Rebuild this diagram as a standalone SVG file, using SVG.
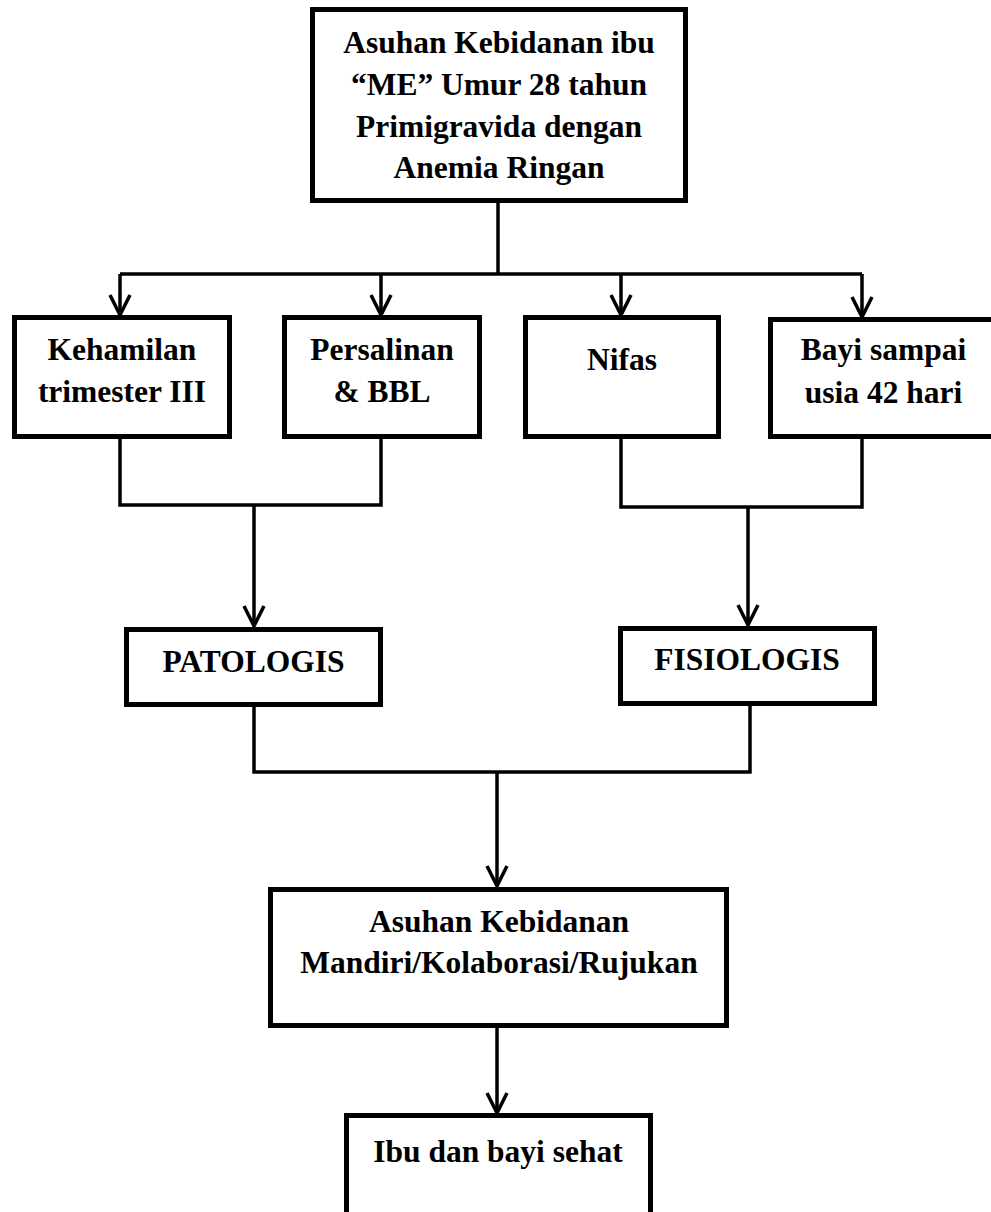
<svg xmlns="http://www.w3.org/2000/svg" width="991" height="1212" viewBox="0 0 991 1212">
<style>
.box{fill:#fff;stroke:#000;stroke-width:5;stroke-linejoin:miter}
.ln{fill:none;stroke:#000;stroke-width:3.5;stroke-linejoin:miter}
text{font-family:"Liberation Serif","Times New Roman",serif;font-weight:bold;font-size:31.5px;fill:#000;text-anchor:middle}
</style>
<defs>
<marker id="arr" viewBox="-24 -13 27 26" markerWidth="27" markerHeight="26" refX="0" refY="0" orient="auto" markerUnits="userSpaceOnUse">
<path d="M-20,-10 L0,0 L-20,10" fill="none" stroke="#000" stroke-width="3.5"/>
</marker>
</defs>
<rect width="991" height="1212" fill="#fff"/>
<g id="connectors">
<path class="ln" d="M498 203 V274"/>
<path class="ln" d="M120 274 H862"/>
<path class="ln" d="M120 274 V315" marker-end="url(#arr)"/>
<path class="ln" d="M381 274 V315" marker-end="url(#arr)"/>
<path class="ln" d="M621 274 V315" marker-end="url(#arr)"/>
<path class="ln" d="M862 274 V317" marker-end="url(#arr)"/>
<path class="ln" d="M120 439 V505 H381 V439"/>
<path class="ln" d="M254 505 V626" marker-end="url(#arr)"/>
<path class="ln" d="M621 439 V507 H862 V439"/>
<path class="ln" d="M748 507 V625" marker-end="url(#arr)"/>
<path class="ln" d="M254 707 V772 H750 V706"/>
<path class="ln" d="M497 772 V886" marker-end="url(#arr)"/>
<path class="ln" d="M497 1028 V1113" marker-end="url(#arr)"/>
</g>
<g id="n-top">
<rect class="box" x="312.5" y="9.5" width="373" height="191"/>
<text x="499" y="53">Asuhan Kebidanan ibu</text>
<text x="499" y="94.5">“ME” Umur 28 tahun</text>
<text x="499" y="136.5">Primigravida dengan</text>
<text x="499" y="178">Anemia Ringan</text>
</g>
<g id="n-kehamilan">
<rect class="box" x="14.5" y="317.5" width="215" height="119"/>
<text x="122" y="360">Kehamilan</text>
<text x="122" y="402">trimester III</text>
</g>
<g id="n-persalinan">
<rect class="box" x="284.5" y="317.5" width="195" height="119"/>
<text x="382" y="360">Persalinan</text>
<text x="382" y="402">&amp; BBL</text>
</g>
<g id="n-nifas">
<rect class="box" x="525.5" y="317.5" width="193" height="119"/>
<text x="622" y="370">Nifas</text>
</g>
<g id="n-bayi">
<rect class="box" x="770.5" y="319.5" width="230" height="117"/>
<text x="883.5" y="360">Bayi sampai</text>
<text x="883.5" y="403">usia 42 hari</text>
</g>
<g id="n-patologis">
<rect class="box" x="126.5" y="629.5" width="254" height="75"/>
<text x="253.5" y="672">PATOLOGIS</text>
</g>
<g id="n-fisiologis">
<rect class="box" x="620.5" y="628.5" width="254" height="75"/>
<text x="747" y="670">FISIOLOGIS</text>
</g>
<g id="n-asuhan">
<rect class="box" x="270.5" y="889.5" width="456" height="136"/>
<text x="499" y="932">Asuhan Kebidanan</text>
<text x="499" y="973">Mandiri/Kolaborasi/Rujukan</text>
</g>
<g id="n-ibu">
<rect class="box" x="346.5" y="1115.5" width="304" height="120"/>
<text x="498" y="1162">Ibu dan bayi sehat</text>
</g>
</svg>
